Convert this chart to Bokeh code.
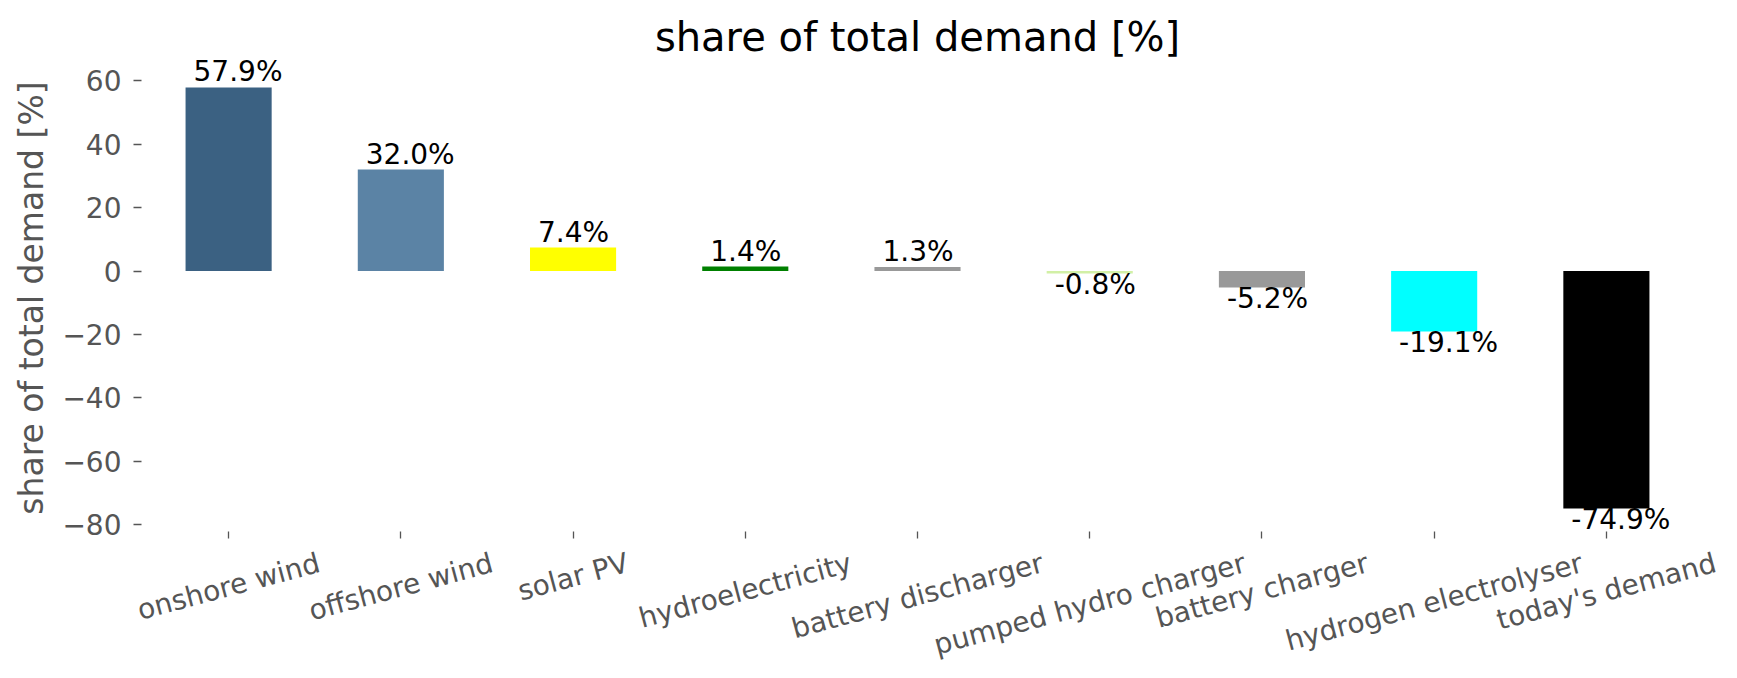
import math
from bokeh.plotting import figure
from bokeh.models import (ColumnDataSource, LabelSet, Label, FixedTicker,
                          Range1d, LinearAxis)
from bokeh.transform import dodge
from bokeh.core.properties import value
from bokeh.embed import file_html
from bokeh.resources import INLINE

# ---- data ----
categories = ["onshore wind", "offshore wind", "solar PV", "hydroelectricity",
              "battery discharger", "pumped hydro charger", "battery charger",
              "hydrogen electrolyser", "today's demand"]
shares = [57.9, 32.0, 7.4, 1.4, 1.3, -0.8, -5.2, -19.1, -74.9]
bar_colors = ["#3b6182", "#5b83a5", "#ffff00", "#008000", "#999999",
              "#d2f0a6", "#999999", "#00ffff", "#000000"]
y_ticks = [-80, -60, -40, -20, 0, 20, 40, 60]
y_tick_labels = ["\u221280", "\u221260", "\u221240", "\u221220", "0", "20", "40", "60"]
title_text = "share of total demand [%]"
y_label = "share of total demand [%]"

FONT = "DejaVu Sans"
GRAY = "#555555"
W, H = 1721, 662
LABEL_PX = 28
ROT = 15  # degrees

# axes box (pixels) and data limits of the axes box
FL, FR, FT, FB = 142, 1692, 66, 529
X0, X1 = -0.5, len(categories) - 0.5
Y0, Y1 = -81.5, 64.5
kx = (FR - FL) / (X1 - X0)
ky = (FB - FT) / (Y1 - Y0)


def data_y(px):
    return Y1 - (px - FT) / ky


# approximate DejaVu Sans advance widths (em) used to top-align rotated labels
_ADV = {" ": .318, "a": .613, "b": .635, "c": .550, "d": .635, "e": .615,
        "f": .352, "g": .635, "h": .634, "i": .278, "l": .278, "m": .974,
        "n": .634, "o": .612, "p": .635, "r": .411, "s": .521, "t": .392,
        "u": .634, "w": .818, "y": .592, "P": .603, "V": .684, "'": .275,
        "v": .592, "k": .579, "x": .592}


def text_width(s, px):
    return sum(_ADV.get(ch, .6) for ch in s) * px


def label_offset(s):
    th = math.radians(ROT)
    box_h = 1.16 * LABEL_PX
    return -(17 + (text_width(s, LABEL_PX) * math.sin(th) + box_h * math.cos(th)) / 2)


p = figure(width=W, height=H,
           x_range=Range1d(X0 - FL / kx, X1 + (W - FR) / kx),
           y_range=Range1d(Y0 - (H - FB) / ky, Y1 + FT / ky),
           x_axis_location=None, y_axis_location=None,
           min_border=0, output_backend="svg", toolbar_location=None)

idx = list(range(len(categories)))
src = ColumnDataSource(dict(x=idx, cat=categories, share=shares, color=bar_colors))
p.vbar(x="x", top="share", bottom=0, width=0.5, source=src,
       fill_color="color", line_color=None)

# value annotations
pos = [i for i, v in enumerate(shares) if v >= 0]
neg = [i for i, v in enumerate(shares) if v < 0]
for sel, yoff in ((pos, 6), (neg, -20.5)):
    s = ColumnDataSource(dict(x=sel,
                              share=[shares[i] for i in sel],
                              label=["%.1f%%" % shares[i] for i in sel]))
    p.add_layout(LabelSet(x=dodge("x", -0.25), y="share",
                          text="label", source=s, x_offset=8, y_offset=yoff,
                          text_align="left", text_baseline="alphabetic",
                          text_font=value(FONT), text_font_size="%dpx" % LABEL_PX,
                          text_color="black"))

# x tick labels, rotated, centred on their ticks and top-aligned below them
xl_src = ColumnDataSource(dict(x=idx, cat=categories,
                               yoff=[label_offset(c) for c in categories]))
p.add_layout(LabelSet(x="x", y=Y0, text="cat", source=xl_src, y_offset="yoff",
                      angle=ROT, angle_units="deg", text_align="center",
                      text_baseline="middle", text_font=value(FONT),
                      text_font_size="%dpx" % LABEL_PX, text_color=GRAY))

# title
p.add_layout(Label(x=(X0 + X1) / 2, y=data_y(36.5), text=title_text,
                   text_align="center", text_baseline="alphabetic",
                   text_font=FONT, text_font_size="40px", text_color="black"))

# y axis
ya = LinearAxis(fixed_location=X0, ticker=FixedTicker(ticks=y_ticks),
                bounds=(Y0, Y1))
ya.major_label_overrides = dict(zip(y_ticks, y_tick_labels))
ya.axis_label = y_label
ya.axis_label_text_font = FONT
ya.axis_label_text_font_size = "33px"
ya.axis_label_text_font_style = "normal"
ya.axis_label_text_color = GRAY
ya.axis_label_standoff = 8
ya.major_label_text_font = FONT
ya.major_label_text_font_size = "%dpx" % LABEL_PX
ya.major_label_text_color = GRAY
ya.major_label_standoff = 12
ya.axis_line_color = None
ya.major_tick_line_color = GRAY
ya.major_tick_line_width = 1.3
ya.major_tick_in = -1
ya.major_tick_out = 9
ya.minor_tick_line_color = None
p.add_layout(ya, "left")

# x axis (ticks only; labels drawn above)
xa = LinearAxis(fixed_location=Y0, ticker=FixedTicker(ticks=idx))
xa.axis_line_color = None
xa.major_label_text_color = None
xa.major_tick_line_color = GRAY
xa.major_tick_line_width = 1.3
xa.major_tick_in = -2
xa.major_tick_out = 9
xa.minor_tick_line_color = None
p.add_layout(xa, "below")

p.grid.grid_line_color = None
p.outline_line_color = None
p.background_fill_color = "white"
p.border_fill_color = "white"

open("out.html", "w").write(file_html(p, INLINE))
